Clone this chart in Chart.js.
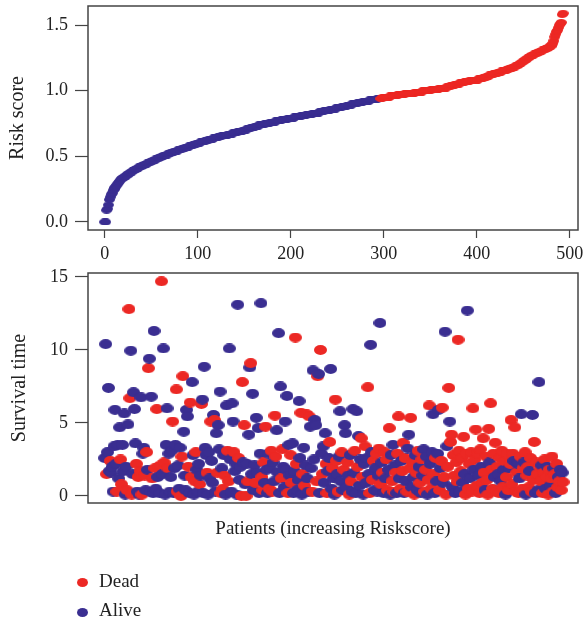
<!DOCTYPE html>
<html>
<head>
<meta charset="utf-8">
<script src="https://cdn.jsdelivr.net/npm/chart.js@4.4.1/dist/chart.umd.min.js"></script>
<style>
  body { margin: 0; background: #fff; }
  #wrap { position: relative; width: 586px; height: 627px; font-family: 'Liberation Serif', 'Times New Roman', serif; color: #222; }
  canvas { position: absolute; left: 0; }
  #riskChart { top: 0; }
  #survChart { top: 262px; }
  .dot { position: absolute; width: 11px; height: 9px; border-radius: 50%; }
  .lab { position: absolute; left: 99px; height: 22px; line-height: 22px; font-size: 19px; }
</style>
</head>
<body>
<div id="wrap">
  <canvas id="riskChart" width="586" height="270"></canvas>
  <canvas id="survChart" width="586" height="365"></canvas>
  <span class="dot" style="left:77px;top:578px;background:#EC2824"></span>
  <div class="lab" style="top:570px">Dead</div>
  <span class="dot" style="left:77px;top:608px;background:#3A2E91"></span>
  <div class="lab" style="top:599px">Alive</div>
</div>
<script>
// risk score of each patient, sorted (index = patient order)
var riskScore = [
0.00,0.00,0.09,0.10,0.13,0.17,0.19,0.21,0.22,0.24,
0.25,0.26,0.27,0.28,0.29,0.30,0.31,0.32,0.33,0.33,
0.34,0.34,0.35,0.35,0.36,0.36,0.37,0.37,0.38,0.38,
0.39,0.39,0.40,0.40,0.40,0.41,0.41,0.42,0.42,0.42,
0.43,0.43,0.43,0.44,0.44,0.44,0.45,0.45,0.45,0.46,
0.46,0.46,0.47,0.47,0.47,0.48,0.48,0.48,0.49,0.49,
0.49,0.50,0.50,0.50,0.51,0.51,0.51,0.51,0.52,0.52,
0.52,0.53,0.53,0.53,0.53,0.54,0.54,0.54,0.54,0.55,
0.55,0.55,0.55,0.56,0.56,0.56,0.56,0.57,0.57,0.57,
0.57,0.58,0.58,0.58,0.58,0.59,0.59,0.59,0.59,0.60,
0.60,0.60,0.60,0.61,0.61,0.61,0.61,0.61,0.62,0.62,
0.62,0.62,0.63,0.63,0.63,0.63,0.63,0.64,0.64,0.64,
0.64,0.64,0.65,0.65,0.65,0.65,0.66,0.66,0.66,0.66,
0.66,0.66,0.66,0.67,0.67,0.67,0.67,0.67,0.68,0.68,
0.68,0.68,0.68,0.69,0.69,0.69,0.69,0.69,0.69,0.70,
0.70,0.70,0.70,0.71,0.71,0.71,0.71,0.72,0.72,0.72,
0.72,0.72,0.73,0.73,0.73,0.73,0.74,0.74,0.74,0.74,
0.74,0.74,0.75,0.75,0.75,0.75,0.75,0.75,0.76,0.76,
0.76,0.76,0.76,0.76,0.77,0.77,0.77,0.77,0.77,0.77,
0.78,0.78,0.78,0.78,0.78,0.78,0.78,0.79,0.79,0.79,
0.79,0.79,0.79,0.79,0.80,0.80,0.80,0.80,0.80,0.80,
0.80,0.81,0.81,0.81,0.81,0.81,0.81,0.82,0.82,0.82,
0.82,0.82,0.82,0.82,0.83,0.83,0.83,0.83,0.83,0.83,
0.83,0.84,0.84,0.84,0.84,0.84,0.85,0.85,0.85,0.85,
0.85,0.85,0.85,0.86,0.86,0.86,0.86,0.86,0.86,0.87,
0.87,0.87,0.87,0.87,0.87,0.88,0.88,0.88,0.88,0.88,
0.88,0.89,0.89,0.89,0.89,0.89,0.90,0.90,0.90,0.90,
0.90,0.90,0.91,0.91,0.91,0.91,0.91,0.91,0.92,0.92,
0.92,0.92,0.92,0.92,0.92,0.93,0.93,0.93,0.93,0.93,
0.93,0.93,0.93,0.94,0.94,0.94,0.94,0.94,0.94,0.95,
0.95,0.95,0.95,0.95,0.95,0.95,0.95,0.96,0.96,0.96,
0.96,0.96,0.96,0.96,0.96,0.97,0.97,0.97,0.97,0.97,
0.97,0.97,0.97,0.98,0.98,0.98,0.98,0.98,0.98,0.98,
0.98,0.98,0.98,0.98,0.99,0.99,0.99,0.99,0.99,0.99,
0.99,0.99,1.00,1.00,1.00,1.00,1.00,1.00,1.00,1.00,
1.00,1.01,1.01,1.01,1.01,1.01,1.01,1.01,1.01,1.01,
1.02,1.02,1.02,1.02,1.02,1.02,1.02,1.02,1.03,1.03,
1.03,1.03,1.04,1.04,1.04,1.04,1.04,1.05,1.05,1.05,
1.05,1.05,1.06,1.06,1.06,1.06,1.06,1.07,1.07,1.07,
1.07,1.07,1.07,1.08,1.08,1.08,1.08,1.08,1.08,1.08,
1.08,1.08,1.09,1.09,1.09,1.09,1.09,1.10,1.10,1.10,
1.10,1.11,1.11,1.11,1.12,1.12,1.12,1.12,1.13,1.13,
1.13,1.13,1.13,1.14,1.14,1.14,1.14,1.15,1.15,1.15,
1.15,1.15,1.16,1.16,1.16,1.17,1.17,1.17,1.17,1.18,
1.18,1.18,1.19,1.19,1.19,1.20,1.20,1.21,1.21,1.22,
1.22,1.23,1.23,1.24,1.24,1.25,1.25,1.26,1.26,1.27,
1.27,1.27,1.28,1.28,1.28,1.29,1.29,1.29,1.30,1.30,
1.30,1.31,1.31,1.31,1.32,1.32,1.32,1.33,1.33,1.34,
1.34,1.35,1.36,1.38,1.41,1.43,1.45,1.46,1.48,1.50,
1.51,1.52,1.58,1.59
];
var highRiskStart = 297;   // first patient of the high risk group

// survival time of each patient, same order
var survivalTime = [
2.6,10.4,1.5,3.0,7.4,1.7,2.4,1.6,2.0,0.3,
3.4,5.9,2.2,0.3,3.5,1.2,4.7,2.5,0.8,3.5,
1.7,5.65,0.1,2.0,0.4,4.9,12.8,6.7,9.95,0.1,
1.5,7.1,5.95,3.6,2.2,0.3,1.3,0.1,1.7,6.75,
0.1,2.9,3.3,1.4,0.4,3.0,1.8,8.75,9.4,0.3,
6.8,1.2,0.2,11.3,1.9,0.5,5.95,1.3,2.0,0.2,
2.1,14.7,1.5,10.1,2.3,0.1,3.5,6.0,1.9,2.9,
0.3,1.3,3.1,5.1,0.2,1.9,3.5,7.3,0.3,2.1,
0.5,3.3,0.0,2.7,8.2,4.4,1.4,0.4,5.9,5.45,
2.0,0.2,6.4,1.3,7.8,2.8,0.1,1.0,3.0,1.8,
0.3,2.2,0.8,1.4,6.3,6.6,0.2,8.85,3.3,2.8,
1.6,0.1,3.0,1.2,5.1,2.4,0.9,5.55,5.2,0.3,
4.3,1.6,4.85,3.2,7.15,0.2,1.9,0.5,2.8,1.4,
0.1,6.2,3.1,1.0,10.1,2.5,0.3,6.35,5.1,3.0,
1.7,2.2,0.1,13.1,2.6,1.1,2.0,0.0,7.8,2.3,
4.85,0.8,0.0,2.2,1.0,4.2,8.8,9.1,1.5,7.0,
0.4,2.1,0.9,5.35,1.6,4.65,0.2,2.9,13.2,1.3,
0.4,2.3,0.9,4.75,1.8,0.2,2.9,0.5,1.9,3.1,
0.3,2.3,1.0,5.5,2.7,4.5,1.6,11.15,0.2,7.5,
1.2,3.2,2.0,0.6,5.1,1.8,6.85,0.2,3.5,1.4,
2.8,0.9,3.6,0.2,1.7,10.85,2.2,0.4,1.1,6.5,
2.6,5.7,0.1,1.5,3.3,0.7,2.1,5.6,1.2,0.3,
5.45,4.75,1.9,0.3,8.6,2.5,5.2,4.85,1.0,8.2,
8.35,0.2,10.0,2.9,1.5,3.4,0.9,4.3,2.2,0.2,
1.7,2.6,3.7,8.7,0.5,1.9,1.2,0.1,6.6,2.4,
1.5,0.3,2.7,5.8,1.0,3.0,0.4,1.8,4.85,4.3,
0.6,2.3,1.4,0.1,2.8,1.0,0.3,5.95,1.6,3.1,
0.2,5.8,2.0,4.1,0.7,2.5,3.95,1.3,0.1,2.2,
3.4,0.9,2.6,7.45,1.5,0.2,10.35,3.0,1.1,2.4,
0.4,1.9,2.9,0.3,1.4,3.25,11.85,0.8,2.3,1.6,
0.2,3.0,1.2,2.5,0.4,1.8,4.65,0.1,2.8,1.0,
3.5,0.3,2.1,1.6,0.2,2.9,5.45,1.2,0.5,2.4,
1.7,3.65,0.2,2.6,1.0,0.3,3.25,4.2,1.9,5.35,
0.6,2.3,1.3,0.1,2.8,1.6,0.4,3.1,2.0,0.9,
0.2,2.5,1.4,3.2,0.3,1.8,2.7,0.1,1.1,6.2,
2.2,0.5,3.0,5.6,1.5,0.2,2.6,1.0,2.9,5.9,
0.4,1.9,2.4,6.05,0.9,1.3,11.25,0.1,3.4,2.0,
7.4,5.1,3.7,4.2,0.6,2.8,1.4,0.2,2.3,1.0,
10.7,3.1,0.3,1.7,2.6,0.9,4.05,1.5,0.1,2.9,
12.7,0.5,2.2,1.2,3.0,0.3,6.0,1.8,2.5,4.55,
0.7,2.9,1.4,0.2,3.2,2.0,0.9,3.95,1.6,0.4,
2.7,1.1,0.1,4.6,2.3,6.35,1.8,0.5,2.9,1.3,
3.65,0.3,2.0,1.5,0.2,2.6,1.0,3.1,0.6,1.8,
2.4,0.1,1.3,2.9,0.4,1.9,2.2,5.2,0.8,2.9,
2.4,4.7,0.3,1.6,2.2,0.2,1.2,2.7,5.6,0.5,
1.9,2.3,3.0,0.1,1.4,2.0,0.6,1.7,2.6,0.3,
5.55,1.1,3.7,0.2,2.3,1.5,0.4,7.8,2.0,1.0,
2.1,0.2,1.6,2.5,0.5,1.3,2.0,0.1,1.8,0.7,
1.2,2.7,0.3,1.9,1.5,0.2,2.2,0.6,1.3,1.0,
1.8,0.4,1.6,0.95
];

// 1 = Dead, 0 = Alive
var deadStatus = [
0,0,1,0,0,0,1,0,0,0,
0,0,0,1,0,0,0,1,1,0,
0,0,0,0,1,0,1,1,0,1,
0,0,0,0,1,0,1,0,1,0,
1,0,0,1,0,1,0,1,0,0,
0,1,0,0,1,0,1,0,1,0,
1,1,0,0,1,0,0,0,1,0,
0,0,0,1,0,0,0,1,1,0,
0,0,1,1,1,0,0,0,0,0,
1,0,1,1,0,0,0,1,1,0,
0,0,1,0,1,0,0,0,0,0,
1,0,0,0,1,0,0,0,1,0,
0,1,0,0,0,1,0,1,0,1,
0,0,1,1,0,0,0,0,0,1,
0,0,0,0,1,0,0,1,1,0,
1,0,1,0,1,0,0,1,0,0,
0,0,1,0,0,0,0,0,0,1,
1,1,0,1,0,0,0,1,0,1,
1,0,0,1,1,0,0,0,0,0,
1,1,0,0,0,0,0,1,0,0,
1,1,0,0,0,1,1,0,0,0,
0,1,0,1,0,1,0,1,0,0,
1,0,0,1,0,0,0,0,1,1,
0,0,1,0,1,0,0,0,1,1,
0,0,1,0,0,1,0,0,1,1,
0,1,0,0,0,1,0,1,0,0,
0,1,0,1,0,1,0,0,0,1,
0,0,1,0,0,0,1,1,0,0,
1,0,0,1,0,1,0,0,1,1,
0,0,1,0,0,1,0,1,0,1,
0,1,0,1,1,0,1,0,0,1,
0,1,0,1,0,1,1,0,1,0,
1,1,0,1,0,1,0,0,1,1,
0,1,0,1,0,1,0,1,0,1,
0,1,0,0,1,1,0,0,1,1,
0,1,0,0,1,0,1,0,0,0,
1,0,1,1,0,1,0,1,0,1,
1,0,1,1,0,1,1,0,1,1,
1,1,0,1,1,0,1,0,1,1,
0,1,1,0,1,1,1,0,1,1,
1,1,0,1,1,0,1,1,1,0,
1,1,1,1,0,1,1,1,1,0,
1,1,1,0,1,1,0,1,1,0,
1,0,1,1,1,0,1,1,1,1,
0,1,1,1,0,1,0,1,0,1,
1,0,1,0,1,1,1,0,1,1,
0,1,1,0,1,1,0,0,1,1,
0,1,1,1,0,1,0,1,1,0,
1,1,1,0,1,0,1,1,0,1,
0,1,0,1
];

var patientTicks = [0, 100, 200, 300, 400, 500];
var riskTicks = [0, 0.5, 1.0, 1.5];
var survivalTicks = [0, 5, 10, 15];

var rojo = '#EC2824';
var azul = '#3A2E91';
var fuente = "'Liberation Serif', 'Times New Roman', serif";

Chart.defaults.font.family = fuente;
Chart.defaults.color = '#222';

// the dots in the figure are slightly flattened, so draw them as ellipses
function crearPunto(ancho, alto, color){
    var c = document.createElement('canvas');
    c.width = ancho;
    c.height = alto;
    var g = c.getContext('2d');
    g.fillStyle = color;
    g.beginPath();
    g.ellipse(ancho/2, alto/2, ancho/2, alto/2, 0, 0, Math.PI*2);
    g.fill();
    return c;
}

var puntoRojoArriba = crearPunto(11, 7, rojo);
var puntoAzulArriba = crearPunto(11, 7, azul);
var puntoRojo = crearPunto(13, 10, rojo);
var puntoAzul = crearPunto(13, 10, azul);

var caja = {
    id: 'caja',
    afterDraw: function(chart){
        var a = chart.chartArea;
        var ctx = chart.ctx;
        ctx.save();
        ctx.strokeStyle = '#444';
        ctx.lineWidth = 1.5;
        ctx.strokeRect(a.left, a.top, a.right - a.left, a.bottom - a.top);
        ctx.restore();
    }
};

function ponerTicks(valores){
    return function(scale){
        scale.ticks = valores.map(function(v){ return {value: v}; });
    };
}

// fixed axis sizes, and no extra room for the end labels
function anchoFijo(w){
    return function(s){ s.width = w; s.paddingTop = 0; s.paddingBottom = 0; };
}
function altoFijo(h){
    return function(s){ s.height = h; s.paddingLeft = 0; s.paddingRight = 0; };
}

var datosRiesgo = riskScore.map(function(v, i){ return {x: i, y: v}; });
var datosSupervivencia = survivalTime.map(function(v, i){ return {x: i, y: v}; });

var chart = new Chart(document.getElementById('riskChart'), {
    type: 'scatter',
    data: {
        datasets: [{
            label: 'Risk score',
            data: datosRiesgo,
            pointRadius: 5,
            pointStyle: function(ctx){
                return ctx.dataIndex >= highRiskStart ? puntoRojoArriba : puntoAzulArriba;
            },
            clip: false
        }]
    },
    options: {
        responsive: false,
        animation: false,
        events: [],
        layout: { padding: { top: 6, right: 8, left: 0, bottom: 0 } },
        plugins: { legend: { display: false }, tooltip: { enabled: false } },
        scales: {
            x: {
                type: 'linear',
                min: -18,
                max: 509,
                afterBuildTicks: ponerTicks(patientTicks),
                afterFit: altoFijo(40),
                border: { display: false },
                grid: { display: true, drawOnChartArea: false, drawTicks: true, tickLength: 8, tickColor: '#444', tickWidth: 1.2 },
                ticks: { padding: 5, font: { size: 18 }, color: '#222' }
            },
            y: {
                min: -0.061,
                max: 1.645,
                afterBuildTicks: ponerTicks(riskTicks),
                afterFit: anchoFijo(88),
                border: { display: false },
                grid: { display: true, drawOnChartArea: false, drawTicks: true, tickLength: 13, tickColor: '#444', tickWidth: 1.2 },
                ticks: { padding: 7, font: { size: 18 }, color: '#222', callback: function(v){ return v.toFixed(1); } },
                title: { display: true, text: 'Risk score', font: { size: 20 }, color: '#222', padding: { top: 6, bottom: 0 } }
            }
        }
    },
    plugins: [caja]
});

var chart2 = new Chart(document.getElementById('survChart'), {
    type: 'scatter',
    data: {
        datasets: [{
            label: 'Survival time',
            data: datosSupervivencia,
            pointRadius: 6,
            pointStyle: function(ctx){
                return deadStatus[ctx.dataIndex] == 1 ? puntoRojo : puntoAzul;
            },
            clip: false
        }]
    },
    options: {
        responsive: false,
        animation: false,
        events: [],
        layout: { padding: { top: 11, right: 8, left: 0, bottom: 0 } },
        plugins: { legend: { display: false }, tooltip: { enabled: false } },
        scales: {
            x: {
                type: 'linear',
                min: -18,
                max: 509,
                afterFit: altoFijo(124),
                border: { display: false },
                grid: { display: false },
                ticks: { display: false },
                title: { display: true, text: 'Patients (increasing Riskscore)', font: { size: 19 }, color: '#222', padding: { top: 0, bottom: 87 } }
            },
            y: {
                min: -0.48,
                max: 15.27,
                afterBuildTicks: ponerTicks(survivalTicks),
                afterFit: anchoFijo(88),
                border: { display: false },
                grid: { display: true, drawOnChartArea: false, drawTicks: true, tickLength: 13, tickColor: '#444', tickWidth: 1.2 },
                ticks: { padding: 7, font: { size: 18 }, color: '#222' },
                title: { display: true, text: 'Survival time', font: { size: 20 }, color: '#222', padding: { top: 8, bottom: 0 } }
            }
        }
    },
    plugins: [caja]
});
</script>
</body>
</html>
